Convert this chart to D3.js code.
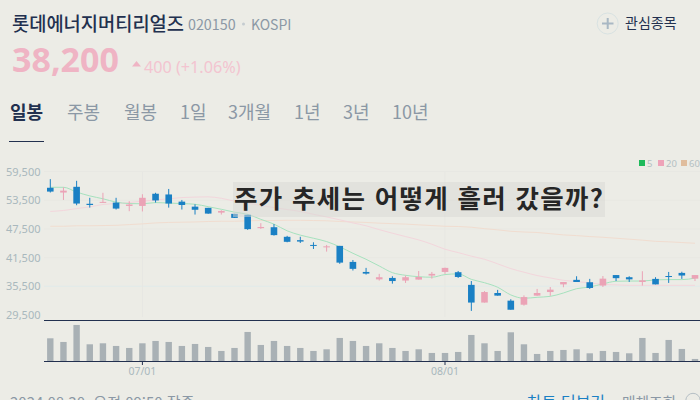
<!DOCTYPE html>
<html lang="ko">
<head>
<meta charset="utf-8">
<script src="https://cdn.jsdelivr.net/npm/d3@7"></script>
<style>
html,body{margin:0;padding:0;background:#ecece6;overflow:hidden}
svg{display:block}
text{font-family:"Noto Sans CJK KR","Noto Sans",sans-serif}
</style>
</head>
<body>
<svg id="c" width="700" height="400"></svg>
<script>
const yTicks = [59500,53500,47500,41500,35500,29500];
const dateTicks = [{i:7,label:"07/01"},{i:30,label:"08/01"}];
const tabs = ["일봉","주봉","월봉","1일","3개월","1년","3년","10년"];
const legendItems = ["5","20","60"];
const opens  = [56100,55100,56300,52750,52950,53000,52300,52300,54850,54700,53200,52150,51900,50900,50650,50450,47650,47850,45850,45150,44150,43650,43950,40600,38500,36950,37250,36700,36900,37750,38500,38450,35800,32100,34100,32500,31650,33550,34300,35900,36850,36350,35650,37850,37400,36400,37050,37650,38300,37100];
const closes = [55300,55500,52800,52500,53150,51750,52600,54000,53450,52800,52500,51500,50700,51250,49800,47450,47900,46200,44800,44850,44000,43850,40450,39150,38150,37400,36600,37400,37450,38100,39350,37450,32100,34300,33550,30600,33250,34100,34800,36400,36400,35150,37100,37200,36950,36750,35900,37500,37750,37850];
const highs  = [57900,56200,57550,54000,55050,54000,53300,54750,55050,55850,53550,52650,51900,51400,50650,50450,48700,48500,46050,45850,44700,44150,43950,41000,39350,38100,37600,37750,38700,38500,39400,38700,36600,34500,34750,32800,33600,34950,35350,36400,37600,37050,37650,37850,37600,38650,37400,38500,38550,37850];
const lows   = [55100,53550,52450,51950,52950,51550,51200,51150,53000,51950,51550,50500,50650,50500,49800,47300,47500,46100,44700,44550,43300,42750,40200,38800,37950,36700,36050,36200,36900,37100,38100,37250,30350,32100,33550,30600,31450,33500,33500,35300,36400,34950,35350,36600,36400,35650,35900,36200,37050,36600];
const ma5  = [56200,56200,55200,54400,53800,53100,52800,52750,53000,52900,52800,52650,52150,51600,51000,50550,49500,48500,47100,46200,45550,44850,43750,42400,41150,39750,38350,37800,37500,37400,37950,38100,36950,36250,35300,33700,33000,33200,33400,34100,35000,35350,36000,36550,36600,36600,36850,36900,36900,37200];
const ma20 = [51150,51350,51750,52100,52600,52800,53000,53300,53550,53800,54050,54150,54200,53900,53300,52900,52400,51950,51550,51150,50550,50000,49400,48750,48150,47350,46600,45900,45200,44300,43250,42550,41800,41150,40200,39200,38450,37750,37250,36750,36500,36200,35900,35800,35700,35700,35700,35700,35700,35700];
const ma60 = [48050,48050,48150,48150,48200,48250,48400,48550,48750,48850,48900,48950,49050,49100,49100,49200,49250,49250,49300,49300,49250,49200,49050,48950,48850,48700,48600,48500,48350,48200,48050,48000,47850,47550,47300,47000,46850,46750,46500,46250,46100,45900,45750,45550,45350,45150,44900,44800,44650,44500];
const volumes = [69,58,109,51,54,46,40,54,61,58,46,52,43,31,40,88,49,61,46,40,31,36,70,61,46,54,40,31,36,25,25,28,79,54,31,87,51,22,31,34,36,24,31,28,24,70,25,64,37,7];

const svg = d3.select("#c");
const NAVY="#22304f", GREY="#8b98a5", AXIS="#a9b8bd", BLUE="#1a80c4", PINK="#eba3b6";
const idx = d3.range(opens.length);
const x = d3.scaleLinear().domain([0,49]).range([50.3,695]);
const y = d3.scaleLinear().domain([29500,59500]).range([315,171.5]);
const yV = d3.scaleLinear().domain([0,123]).range([361.3,320.3]);

function T(px,py,s,size,fill,w,anchor){
  return svg.append("text").attr("x",px).attr("y",py).text(s)
    .attr("font-size",size).attr("fill",fill).attr("font-weight",w||400).attr("text-anchor",anchor||"start");
}
// header
T(12,31,"롯데에너지머티리얼즈",19,NAVY,500).attr("textLength",172).attr("lengthAdjust","spacingAndGlyphs");
T(188,30,"020150",14.3,GREY,400);
T(251,30,"KOSPI",14,GREY,400);
svg.append("circle").attr("cx",243.5).attr("cy",24).attr("r",1.5).attr("fill","#c5ccd0");
T(12,72,"38,200",34,"#efb4c4",700).style("font-family","'Noto Sans',sans-serif");
svg.append("path").attr("d","M132 66.5L141 66.5L136.5 61Z").attr("fill","#efb4c4");
T(144,73,"400 (+1.06%)",16.2,"#f3c4d0",400).style("font-family","'Noto Sans',sans-serif");
svg.append("circle").attr("cx",607.7).attr("cy",23.5).attr("r",10.5).attr("fill","none").attr("stroke","#d8e2e2");
svg.append("path").attr("d","M602 23.5H613.5M607.7 18V29").attr("stroke","#a9b8c4").attr("stroke-width",2);
T(625,28,"관심종목",14,NAVY,400);

// tabs
const tabX=[10,67,124,180,228,294,343,392];
tabs.forEach((t,i)=>T(tabX[i],119,t,18,i?GREY:NAVY,i?400:700));
svg.append("rect").attr("x",9).attr("y",141).attr("width",35).attr("height",1).attr("fill",NAVY);

// grid
svg.append("g").selectAll("line").data(yTicks.slice(0,5)).join("line")
  .attr("x1",44).attr("x2",700).attr("y1",d=>y(d)).attr("y2",d=>y(d))
  .attr("stroke",d=>d===35500?"#e2ebea":"#e8e8e3");
svg.append("g").selectAll("line").data(dateTicks).join("line")
  .attr("x1",d=>x(d.i)).attr("x2",d=>x(d.i)).attr("y1",172).attr("y2",317)
  .attr("stroke","#e7e7e2");

// y axis labels
const yAxis = d3.axisLeft(y).tickValues(yTicks).tickSize(0).tickFormat(d3.format(","));
const gy = svg.append("g").attr("transform","translate(44,0)").call(yAxis);
gy.select(".domain").remove();
gy.selectAll("text").attr("x",-3.5).attr("font-size",11).attr("fill",AXIS)
  .style("font-family","'Noto Sans',sans-serif");

// moving averages
const ln = a => d3.line().x((d,i)=>x(i)).y(d=>y(d)).curve(d3.curveMonotoneX)(a);
[[ma60,"#f1ddd0"],[ma20,"#f3d6dc"],[ma5,"#a6e2be"]].forEach(([a,c])=>
  svg.append("path").attr("d",ln(a)).attr("fill","none").attr("stroke",c).attr("stroke-width",1));

// candles
const col = i => closes[i]>=opens[i]?PINK:BLUE;
const g = svg.append("g");
g.selectAll("line").data(idx).join("line")
  .attr("x1",i=>x(i)).attr("x2",i=>x(i)).attr("y1",i=>y(highs[i])).attr("y2",i=>y(lows[i]))
  .attr("stroke",col).attr("stroke-width",1);
g.selectAll("rect").data(idx).join("rect")
  .attr("x",i=>x(i)-3.3).attr("width",6.6)
  .attr("y",i=>y(Math.max(opens[i],closes[i])))
  .attr("height",i=>Math.max(1,Math.abs(y(opens[i])-y(closes[i]))))
  .attr("fill",col);

// legend
const lgX=[639,658,681], lgC=["#1fba5b","#eea3b8","#e0bd9d"];
legendItems.forEach((t,i)=>{
  svg.append("rect").attr("x",lgX[i]).attr("y",160).attr("width",6).attr("height",6).attr("fill",lgC[i]);
  T(lgX[i]+8,166.5,t,9.5,"#b4c0c2",400).style("font-family","'Noto Sans',sans-serif");
});

// overlay
svg.append("rect").attr("x",233).attr("y",182).attr("width",372).attr("height",35).attr("fill","#d8d8d4").attr("fill-opacity",.5);
T(234,208,"주가 추세는 어떻게 흘러 갔을까?",25.5,"#262626",700).attr("textLength",369);

// volume
svg.append("line").attr("x1",44).attr("x2",700).attr("y1",320.5).attr("y2",320.5).attr("stroke",NAVY).attr("stroke-width",1);
svg.append("g").selectAll("rect").data(idx).join("rect")
  .attr("x",i=>x(i)-3.2).attr("width",6.4)
  .attr("y",i=>yV(volumes[i])).attr("height",i=>yV(0)-yV(volumes[i]))
  .attr("fill","#a9b1b5");
svg.append("line").attr("x1",44).attr("x2",700).attr("y1",361.5).attr("y2",361.5).attr("stroke",NAVY).attr("stroke-width",1);
dateTicks.forEach(d=>{
  svg.append("line").attr("x1",x(d.i)).attr("x2",x(d.i)).attr("y1",361).attr("y2",365).attr("stroke",NAVY);
  T(x(d.i),375,d.label,10.5,AXIS,400,"middle").style("font-family","'Noto Sans',sans-serif");
});

// footer
T(10,408,"2024.08.30. 오전 09:50 장중",15,GREY,400);
T(527,408,"차트 더보기",16,BLUE,400);
T(622,408,"매체조회",14.7,GREY,400);
svg.append("circle").attr("cx",693).attr("cy",400.5).attr("r",7.2).attr("fill","none").attr("stroke","#b5bfc5");
</script>
</body>
</html>
